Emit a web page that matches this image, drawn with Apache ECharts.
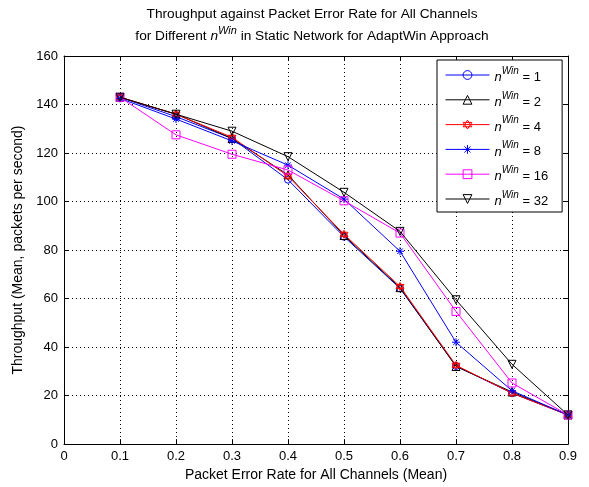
<!DOCTYPE html>
<html>
<head>
<meta charset="utf-8">
<script src="https://cdn.jsdelivr.net/npm/echarts@6/dist/echarts.min.js"></script>
<style>html,body{margin:0;padding:0;background:#fff}#c{width:589px;height:487px}</style>
</head>
<body>
<div id="c"></div>
<script>
var per = [0.1, 0.2, 0.3, 0.4, 0.5, 0.6, 0.7, 0.8, 0.9];
var nWin1  = [143, 135, 126, 109, 85.5, 64.2, 32.2, 21, 12];
var nWin2  = [143, 136, 126, 111, 86, 64.5, 32, 21.5, 12];
var nWin4  = [143, 136, 126.5, 110.5, 86.5, 65, 32.5, 21, 12];
var nWin8  = [142.5, 134, 125, 115, 101, 79.5, 42, 22, 12];
var nWin16 = [143, 127.5, 119.5, 113, 100.3, 87, 54.7, 25.2, 12];
var nWin32 = [143, 136, 129, 118.5, 103.8, 87.7, 59.5, 32.9, 12];
var seriesLabels = ['1', '2', '4', '8', '16', '32'];
var xTicks = [0, 0.1, 0.2, 0.3, 0.4, 0.5, 0.6, 0.7, 0.8, 0.9];
var yTicks = [0, 20, 40, 60, 80, 100, 120, 140, 160];

var FONT = '"Liberation Sans", Arial, sans-serif';
var colors = ['#0000ff', '#000000', '#ff0000', '#0000ff', '#ff00ff', '#000000'];
var symbols = [
  'circle',
  'path://M5,0 L10,9 L0,9 Z',
  'path://M5,0 L9.33,7.5 L0.67,7.5 Z M5,10 L0.67,2.5 L9.33,2.5 Z',
  'path://M5,0 L5,10 M0,5 L10,5 M1.5,1.5 L8.5,8.5 M8.5,1.5 L1.5,8.5',
  'rect',
  'path://M0,0 L10,0 L5,9 Z'
];
var sizes = [7, 8, 8, 8, 8, 8];
var allData = [nWin1, nWin2, nWin4, nWin8, nWin16, nWin32];

function pairs(arr) { return per.map(function (x, i) { return [x, arr[i]]; }); }

var series = allData.map(function (d, k) {
  return {
    name: 'nWin = ' + seriesLabels[k],
    type: 'line',
    data: pairs(d),
    symbol: symbols[k],
    symbolSize: sizes[k],
    showSymbol: true,
    color: colors[k],
    lineStyle: { color: colors[k], width: 1 },
    itemStyle: { color: 'rgba(255,255,255,0)', borderColor: colors[k], borderWidth: 1 },
    emphasis: { disabled: true },
    animation: false,
    z: 2 + k
  };
});

var chart = echarts.init(document.getElementById('c'), null, { renderer: 'canvas' });
var gridLine = { show: true, lineStyle: { color: '#000', width: 1, type: [1, 3] } };
var TS = 13.7;
chart.setOption({
  animation: false,
  textStyle: { fontFamily: FONT },
  grid: { left: 64, right: 21, top: 56, bottom: 40 },
  graphic: [{
    type: 'text', x: 312, y: 3,
    style: {
      text: '{t|Throughput against Packet Error Rate for All Channels}\n{t|for Different }{i|n}{s|Win}{t| in Static Network for AdaptWin Approach}',
      align: 'center', fontFamily: FONT, fontSize: TS, lineHeight: 22, fill: '#000',
      rich: {
        t: { fontSize: TS, fontFamily: FONT, lineHeight: 22 },
        i: { fontSize: TS, fontStyle: 'italic', fontFamily: FONT, lineHeight: 22 },
        s: { fontSize: 11, fontStyle: 'italic', fontFamily: FONT, lineHeight: 8, verticalAlign: 'top' }
      }
    }
  }],
  legend: {
    orient: 'vertical', left: 437, top: 60,
    backgroundColor: '#fff', borderColor: '#000', borderWidth: 1, borderRadius: 0,
    padding: [6, 14, 4, 8], itemWidth: 44, itemHeight: 11, itemGap: 6.8,
    lineStyle: { width: 1 },
    itemStyle: { borderWidth: 1 },
    formatter: function (name) { return '{i|n}{s|Win}{t|' + name.replace('nWin', '') + '}'; },
    textStyle: {
      fontFamily: FONT, fontSize: 13, color: '#000',
      rich: {
        t: { fontSize: 13, fontFamily: FONT, lineHeight: 18, verticalAlign: 'bottom' },
        i: { fontSize: 13, fontStyle: 'italic', fontFamily: FONT, lineHeight: 18, verticalAlign: 'bottom' },
        s: { fontSize: 10, fontStyle: 'italic', fontFamily: FONT, lineHeight: 18, verticalAlign: 'top' }
      }
    },
    data: series.map(function (s) { return s.name; })
  },
  xAxis: [{
    type: 'value', min: 0, max: 0.9, interval: 0.1, position: 'bottom',
    name: 'Packet Error Rate for All Channels (Mean)', nameLocation: 'middle', nameGap: 21,
    nameTextStyle: { fontFamily: FONT, fontSize: 14, color: '#000' },
    axisLine: { show: true, onZero: false, lineStyle: { color: '#000', width: 1 } },
    axisTick: { show: true, inside: true, length: 5, lineStyle: { color: '#000' } },
    axisLabel: { color: '#000', fontSize: 13, fontFamily: FONT, margin: 6,
      formatter: function (v) { var i = Math.round(v * 10); return i === 0 ? '0' : xTicks[i].toFixed(1); } },
    splitLine: gridLine
  }, {
    type: 'value', min: 0, max: 0.9, interval: 0.1, position: 'top',
    axisLine: { show: true, onZero: false, lineStyle: { color: '#000', width: 1 } },
    axisTick: { show: true, inside: true, length: 5, lineStyle: { color: '#000' } },
    axisLabel: { show: false }, splitLine: { show: false }
  }],
  yAxis: [{
    type: 'value', min: 0, max: 160, interval: 20, position: 'left',
    name: 'Throughput (Mean, packets per second)', nameLocation: 'middle', nameGap: 28,
    nameTextStyle: { fontFamily: FONT, fontSize: 14, color: '#000' },
    axisLine: { show: true, onZero: false, lineStyle: { color: '#000', width: 1 } },
    axisTick: { show: true, inside: true, length: 5, lineStyle: { color: '#000' } },
    axisLabel: { color: '#000', fontSize: 13, fontFamily: FONT, margin: 6,
      formatter: function (v) { return String(yTicks[Math.round(v / 20)]); } },
    splitLine: gridLine
  }, {
    type: 'value', min: 0, max: 160, interval: 20, position: 'right',
    axisLine: { show: true, onZero: false, lineStyle: { color: '#000', width: 1 } },
    axisTick: { show: true, inside: true, length: 5, lineStyle: { color: '#000' } },
    axisLabel: { show: false }, splitLine: { show: false }
  }],
  series: series
});
</script>
</body>
</html>
